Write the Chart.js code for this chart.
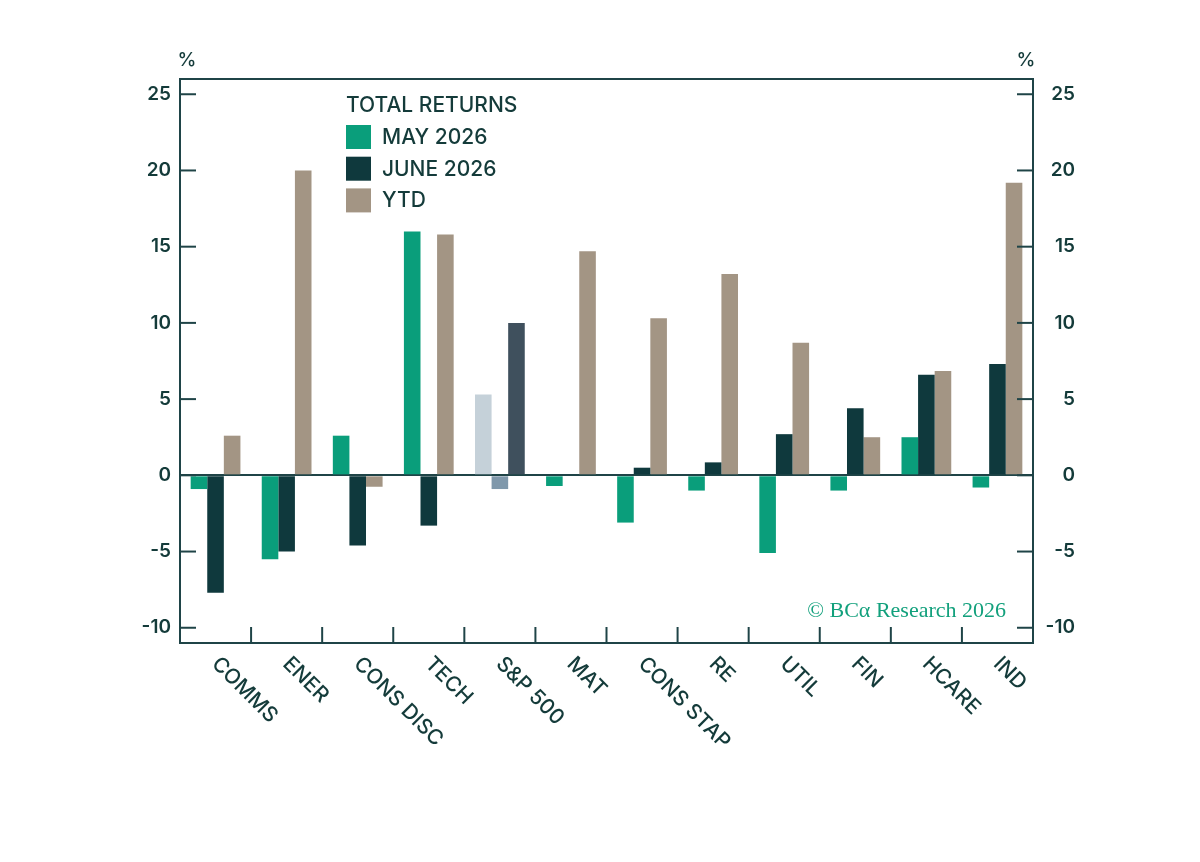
<!DOCTYPE html>
<html>
<head>
<meta charset="utf-8">
<script src="https://cdn.jsdelivr.net/npm/chart.js@4.4.1/dist/chart.umd.min.js"></script>
<style>
  html, body { margin: 0; padding: 0; background: #fff; }
  canvas { display: block; }
</style>
</head>
<body>
<canvas id="returns_chart" width="1200" height="862"></canvas>
<script>
// values (%)
const categories = ['COMMS', 'ENER', 'CONS DISC', 'TECH', 'S&P 500', 'MAT', 'CONS STAP', 'RE', 'UTIL', 'FIN', 'HCARE', 'IND'];
const may2026  = [-0.9, -5.5, 2.6, 16.0, 5.3, -0.7, -3.1, -1.0, -5.1, -1.0, 2.5, -0.8];
const june2026 = [-7.7, -5.0, -4.6, -3.3, -0.9, 0, 0.5, 0.85, 2.7, 4.4, 6.6, 7.3];
const ytd      = [2.6, 20.0, -0.75, 15.8, 10.0, 14.7, 10.3, 13.2, 8.7, 2.5, 6.85, 19.2];
const seriesLabels = ['MAY 2026', 'JUNE 2026', 'YTD'];
const seriesColors = ['#0a9e7b', '#0f393d', '#a39584'];
const benchmark = 'S&P 500';
const benchmarkColors = ['#c5d1d9', '#7f98ab', '#3f505d'];

const textColor = '#143b3a';
const axisColor = '#1f4447';
const FONT = 'Inter, "Noto Sans", sans-serif';

function barColors(k) {
    return categories.map(c => c === benchmark ? benchmarkColors[k] : seriesColors[k]);
}

const frame = {
    id: 'frame',
    afterDraw(chart) {
        const { ctx, chartArea: a, scales } = chart;
        const line = (x1, y1, x2, y2) => {
            ctx.beginPath(); ctx.moveTo(x1, y1); ctx.lineTo(x2, y2); ctx.stroke();
        };
        ctx.save();
        ctx.strokeStyle = axisColor;
        ctx.lineWidth = 2;
        ctx.strokeRect(a.left, a.top, a.right - a.left, a.bottom - a.top);

        // inward tick marks
        scales.y.ticks.forEach(t => {
            const py = scales.y.getPixelForValue(t.value);
            line(a.left, py, a.left + 16, py);
            line(a.right - 16, py, a.right, py);
        });
        for (let i = 1; i < categories.length; i++) {
            const px = (scales.x.getPixelForValue(i - 1) + scales.x.getPixelForValue(i)) / 2;
            line(px, a.bottom, px, a.bottom - 16);
        }

        // category labels, turned 45 deg downwards
        ctx.fillStyle = textColor;
        ctx.font = '500 21px ' + FONT;
        ctx.textAlign = 'left';
        ctx.textBaseline = 'top';
        categories.forEach((c, i) => {
            const px = scales.x.getPixelForValue(i);
            ctx.save();
            ctx.translate(px + 7, a.bottom + 10);
            ctx.rotate(Math.PI / 4);
            ctx.fillText(c, 0, 0);
            ctx.restore();
        });

        // unit labels
        ctx.font = '500 19px ' + FONT;
        ctx.textAlign = 'center';
        ctx.textBaseline = 'middle';
        ctx.fillText('%', a.left + 7, 60);
        ctx.fillText('%', a.right - 7, 60);

        // legend
        ctx.font = '500 21px ' + FONT;
        ctx.textAlign = 'left';
        ctx.fillText('TOTAL RETURNS', a.left + 166, 106);
        chart.data.datasets.forEach((ds, k) => {
            const top = 125 + k * 31.7;
            ctx.fillStyle = seriesColors[k];
            ctx.fillRect(a.left + 166, top, 25, 24);
            ctx.fillStyle = textColor;
            ctx.fillText(ds.label, a.left + 202, top + 12.5);
        });

        // source
        ctx.fillStyle = '#12a07c';
        ctx.font = '22px "Liberation Serif", "DejaVu Serif", serif';
        ctx.textAlign = 'right';
        ctx.textBaseline = 'alphabetic';
        ctx.fillText('\u00A9 BC\u03B1 Research 2026', 1006, 617);
        ctx.restore();
    }
};

const ctx = document.getElementById('returns_chart').getContext('2d');

const chart = new Chart(ctx, {
    type: 'bar',
    data: {
        labels: categories,
        datasets: [may2026, june2026, ytd].map((d, k) => ({
            label: seriesLabels[k],
            data: d,
            backgroundColor: barColors(k),
            borderWidth: 0
        }))
    },
    options: {
        responsive: false,
        animation: false,
        devicePixelRatio: 1,
        layout: {
            padding: { top: 79, left: 0, right: 125, bottom: 0 }
        },
        datasets: {
            bar: {
                categoryPercentage: 0.7,
                barPercentage: 1.0
            }
        },
        plugins: {
            legend: { display: false },
            title: { display: false },
            tooltip: { enabled: false }
        },
        scales: {
            x: {
                grid: { display: false },
                border: { display: false },
                ticks: { display: false },
                afterFit(scale) { scale.height = 219; }
            },
            y: {
                position: 'left',
                min: -11,
                max: 26,
                border: { display: false },
                grid: {
                    drawTicks: false,
                    lineWidth: 2,
                    color: c => (c.tick && c.tick.value === 0) ? axisColor : 'rgba(0,0,0,0)'
                },
                ticks: {
                    stepSize: 5,
                    includeBounds: false,
                    padding: 9,
                    color: textColor,
                    font: { family: FONT, size: 19, weight: '600' }
                },
                afterFit(scale) { scale.width = 180; }
            },
            y2: {
                position: 'right',
                min: -11,
                max: 26,
                border: { display: false },
                grid: { display: false, drawTicks: false },
                ticks: {
                    stepSize: 5,
                    includeBounds: false,
                    crossAlign: 'far',
                    color: textColor,
                    font: { family: FONT, size: 19, weight: '600' }
                },
                afterFit(scale) { scale.width = 42; }
            }
        }
    },
    plugins: [frame]
});
</script>
</body>
</html>
